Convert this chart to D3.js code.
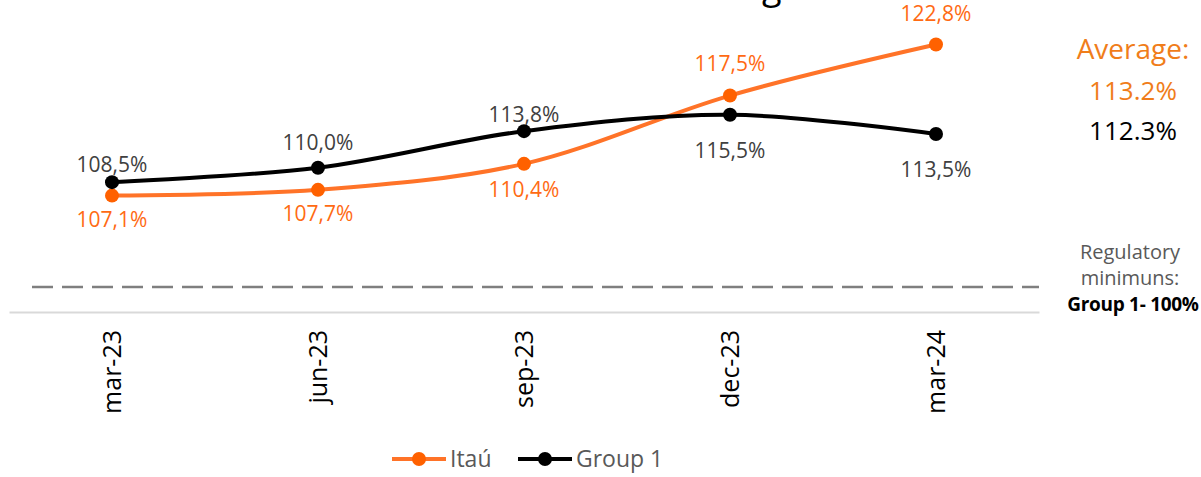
<!DOCTYPE html>
<html>
<head>
<meta charset="utf-8">
<script src="https://cdn.jsdelivr.net/npm/d3@7"></script>
<style>
  body { margin: 0; background: #fff; }
  svg { display: block; font-family: "Open Sans", "Noto Sans", sans-serif; }
</style>
</head>
<body>
<div id="chart"></div>
<script>
"use strict";

// data
const categories = ["mar-23", "jun-23", "sep-23", "dec-23", "mar-24"];
const itauValues = [107.1, 107.7, 110.4, 117.5, 122.8];
const group1Values = [108.5, 110.0, 113.8, 115.5, 113.5];
const seriesNames = ["Itaú", "Group 1"];
const averageLabels = ["113.2%", "112.3%"];
const regulatoryText = ["Regulatory", "minimuns:"];
const regulatoryValue = "Group 1- 100%";

// label offsets (px) from the marker, by point
const itauLabelDy = [31, 31, 33, -25, -24];
const group1LabelDy = [-10, -18, -9, 43, 43];

const W = 1201, H = 477;
const orangeLine = "#ff7328", orangeDot = "#ff6100", orangeText = "#ff6a13";

const svg = d3.select("#chart").append("svg")
    .attr("width", W)
    .attr("height", H);

const x = d3.scaleBand()
    .domain(categories)
    .range([9, 1039]);

const y = d3.scaleLinear()
    .domain([95, 130])
    .range([312, 312 - 35 * 9.62]);

const cx = d => x(d) + x.bandwidth() / 2;

// title (cut off at the top edge)
svg.append("text")
    .attr("x", 762)
    .attr("y", -1)
    .attr("font-size", 36)
    .attr("fill", "#000")
    .text("g");

// regulatory minimum reference line
const refLineY = 287;
svg.append("line")
    .attr("x1", 32).attr("x2", 1039)
    .attr("y1", refLineY).attr("y2", refLineY)
    .attr("stroke", "#7f7f7f")
    .attr("stroke-width", 2.5)
    .attr("stroke-dasharray", "21,9");

// x axis
const xAxis = svg.append("g")
    .attr("transform", "translate(0," + y(95) + ")")
    .call(d3.axisBottom(x).tickSize(0).tickSizeOuter(0));
xAxis.select(".domain").attr("stroke", "#d9d9d9").attr("stroke-width", 2);
xAxis.selectAll(".tick text")
    .attr("transform", "translate(0,18) rotate(-90)")
    .attr("text-anchor", "end")
    .attr("x", 0)
    .attr("y", 0)
    .attr("dy", "0.35em")
    .attr("font-size", 25)
    .attr("font-family", "'Open Sans', sans-serif")
    .attr("fill", "#000");

const line = d3.line()
    .x((d, i) => cx(categories[i]))
    .y(d => y(d))
    .curve(d3.curveCatmullRom.alpha(0.5));

const series = [
    { name: seriesNames[0], values: itauValues, lineColor: orangeLine, dotColor: orangeDot, textColor: orangeText, dy: itauLabelDy },
    { name: seriesNames[1], values: group1Values, lineColor: "#000", dotColor: "#000", textColor: "#404040", dy: group1LabelDy }
];

series.forEach(s => {
    svg.append("path")
        .datum(s.values)
        .attr("fill", "none")
        .attr("stroke", s.lineColor)
        .attr("stroke-width", 4)
        .attr("d", line);
});

series.forEach(s => {
    svg.selectAll(null)
        .data(s.values)
        .enter().append("circle")
        .attr("cx", (d, i) => cx(categories[i]))
        .attr("cy", d => y(d))
        .attr("r", 7)
        .attr("fill", s.dotColor);

    svg.selectAll(null)
        .data(s.values)
        .enter().append("text")
        .attr("x", (d, i) => cx(categories[i]))
        .attr("y", (d, i) => y(d) + s.dy[i])
        .attr("text-anchor", "middle")
        .attr("font-size", 21)
        .attr("fill", s.textColor)
        .text(d => d.toFixed(1).replace(".", ",") + "%");
});

// average block
const avg = svg.append("g").attr("text-anchor", "middle").attr("font-size", 26);
avg.append("text").attr("x", 1133).attr("y", 59).attr("font-size", 28).attr("fill", "#f07d1a").text("Average:");
avg.append("text").attr("x", 1133).attr("y", 100).attr("fill", "#f07d1a").text(averageLabels[0]);
avg.append("text").attr("x", 1133).attr("y", 140).attr("fill", "#000").text(averageLabels[1]);

// regulatory note
const reg = svg.append("g").attr("text-anchor", "middle");
reg.selectAll("text.reg")
    .data(regulatoryText)
    .enter().append("text")
    .attr("class", "reg")
    .attr("x", 1130)
    .attr("y", (d, i) => 259 + i * 26)
    .attr("font-size", 20)
    .attr("fill", "#595959")
    .text(d => d);
reg.append("text")
    .attr("x", 1133)
    .attr("y", 311)
    .attr("font-size", 19)
    .attr("font-weight", "bold")
    .attr("letter-spacing", -0.3)
    .attr("fill", "#000")
    .text(regulatoryValue);

// legend
const legend = svg.append("g").attr("transform", "translate(392,459)");
const legendX = [0, 126];
series.forEach((s, i) => {
    const g = legend.append("g").attr("transform", "translate(" + legendX[i] + ",0)");
    g.append("line")
        .attr("x1", 0).attr("x2", 54)
        .attr("stroke", s.lineColor)
        .attr("stroke-width", 4);
    g.append("circle")
        .attr("cx", 27)
        .attr("r", 7)
        .attr("fill", s.dotColor);
    g.append("text")
        .attr("x", 58)
        .attr("y", 8)
        .attr("font-size", 23)
        .attr("fill", "#595959")
        .text(s.name);
});
</script>
</body>
</html>
